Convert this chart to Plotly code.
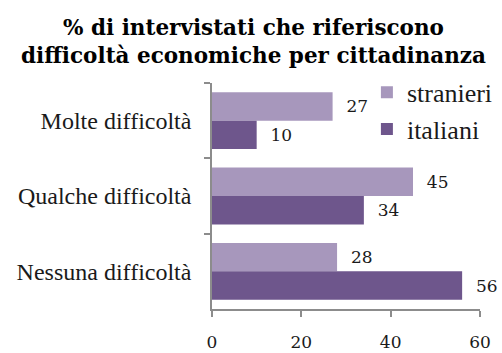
import plotly.graph_objects as go

# Survey answers and shares (%) by citizenship
categories = ["Molte difficoltà", "Qualche difficoltà", "Nessuna difficoltà"]
stranieri = [27, 45, 28]
italiani = [10, 34, 56]
x_ticks = [0, 20, 40, 60]

LIGHT = "#A797BC"
DARK = "#6E568C"
AXIS = "#8C8C8C"
NUM_FONT = dict(family="DejaVu Serif", size=17, color="#1a1a1a")
LAB_FONT = dict(family="Liberation Serif", size=24, color="#1a1a1a")
LEG_FONT = dict(family="Liberation Serif", size=26, color="#1a1a1a")

fig = go.Figure()
for name, vals, col in [("stranieri", stranieri, LIGHT), ("italiani", italiani, DARK)]:
    fig.add_trace(go.Bar(
        name=name, y=categories, x=vals, orientation="h",
        marker=dict(color=col, line=dict(width=0)),
        text=vals, texttemplate="\u00a0\u00a0%{x}",
        textposition="outside", textfont=NUM_FONT,
        constraintext="none", cliponaxis=False,
        legendgroup=name,
    ))

fig.update_layout(
    width=502, height=353,
    margin=dict(l=212, r=22, t=83, b=44, autoexpand=False),
    paper_bgcolor="white", plot_bgcolor="white",
    barmode="group", bargap=0.245, bargroupgap=0,
    title=dict(
        text="% di intervistati che riferiscono<br>difficoltà economiche per cittadinanza",
        x=0.505, xanchor="center", y=0.90, yanchor="top",
        font=dict(family="DejaVu Serif", size=21.5, color="black", weight="bold"),
    ),
    legend=dict(
        x=0.578, xanchor="left", y=1.063, yanchor="top",
        font=LEG_FONT, bgcolor="rgba(0,0,0,0)",
        tracegroupgap=0, itemwidth=30,
    ),
    xaxis=dict(
        range=[0, 60], tickvals=x_ticks, showgrid=False, zeroline=False,
        showline=True, linecolor=AXIS, linewidth=1.5,
        ticks="outside", ticklen=6, tickcolor=AXIS, tickwidth=1.5,
        tickfont=NUM_FONT, ticklabelstandoff=11, automargin=False,
    ),
    yaxis=dict(
        autorange="reversed", showgrid=False, zeroline=False,
        showline=True, linecolor=AXIS, linewidth=1.5,
        ticks="outside", ticklen=6, tickcolor=AXIS, tickwidth=1.5,
        tickson="boundaries", tickfont=LAB_FONT, ticklabelstandoff=14,
        automargin=False,
    ),
)

fig.write_html("out.html")
